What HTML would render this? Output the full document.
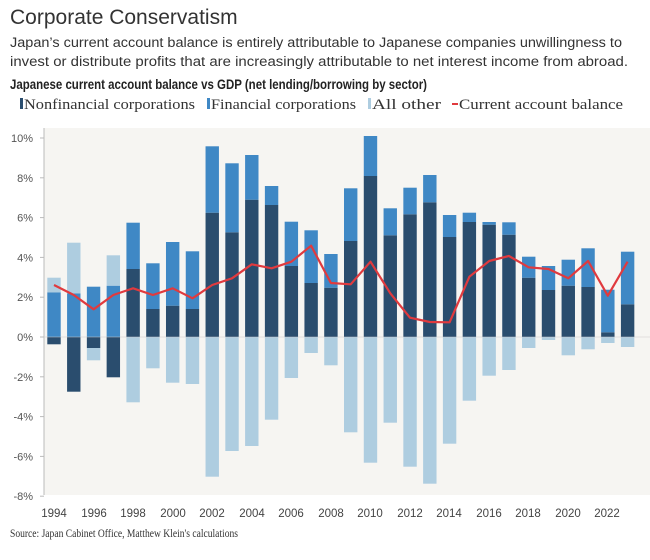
<!DOCTYPE html>
<html><head><meta charset="utf-8"><style>
body{margin:0;background:#fff;width:650px;height:555px;overflow:hidden;font-family:"Liberation Sans",sans-serif}
</style></head><body>
<svg id="s" width="650" height="555" xmlns="http://www.w3.org/2000/svg">
<text x="10" y="24" font-size="21" fill="#333" font-family="Liberation Sans">Corporate Conservatism</text>
<text x="10" y="47" font-size="13.5" fill="#333" textLength="612" lengthAdjust="spacingAndGlyphs">Japan’s current account balance is entirely attributable to Japanese companies unwillingness to</text>
<text x="10" y="66" font-size="13.5" fill="#333" textLength="618" lengthAdjust="spacingAndGlyphs">invest or distribute profits that are increasingly attributable to net interest income from abroad.</text>
<text x="10" y="89" font-size="14" font-weight="bold" fill="#222" textLength="417" lengthAdjust="spacingAndGlyphs">Japanese current account balance vs GDP (net lending/borrowing by sector)</text>
<g font-family="Liberation Serif" font-size="14.5" fill="#333">
<rect x="20" y="98" width="3" height="11" fill="#2a4d6e"/><text x="24" y="109" textLength="171" lengthAdjust="spacingAndGlyphs">Nonfinancial corporations</text>
<rect x="207" y="98" width="3" height="11" fill="#3f88c5"/><text x="211" y="109" textLength="145" lengthAdjust="spacingAndGlyphs">Financial corporations</text>
<rect x="368" y="98" width="3" height="11" fill="#aecde0"/><text x="372" y="109" textLength="69" lengthAdjust="spacingAndGlyphs">All other</text>
<rect x="452" y="103" width="6" height="2" fill="#e03a3e"/><text x="459" y="109" textLength="164" lengthAdjust="spacingAndGlyphs">Current account balance</text>
</g>
<rect x="44" y="128" width="606" height="367" fill="#f6f5f2"/>
<line x1="44" y1="128" x2="44" y2="495" stroke="#bbb" stroke-width="1"/>
<g id="ax" font-size="11" fill="#555" text-anchor="end"></g>
<g id="bars"></g>
<line x1="44" y1="337" x2="650" y2="337" stroke="#ccc" stroke-width="0.6"/>
<polyline id="red" fill="none" stroke="#e03a3e" stroke-width="2.2" stroke-linejoin="round"/>
<g font-size="11.5" fill="#444" text-anchor="middle">
<text x="54" y="517">1994</text><text x="94" y="517">1996</text><text x="133" y="517">1998</text><text x="173" y="517">2000</text><text x="212" y="517">2002</text><text x="252" y="517">2004</text><text x="291" y="517">2006</text><text x="331" y="517">2008</text><text x="370" y="517">2010</text><text x="410" y="517">2012</text><text x="449" y="517">2014</text><text x="489" y="517">2016</text><text x="528" y="517">2018</text><text x="568" y="517">2020</text><text x="607" y="517">2022</text>
</g>
<text x="10" y="537" font-family="Liberation Serif" font-size="12" fill="#333" textLength="228" lengthAdjust="spacingAndGlyphs">Source: Japan Cabinet Office, Matthew Klein's calculations</text>
</svg>
<script>
var NS="http://www.w3.org/2000/svg",Z=337;
function el(n,a,p){var e=document.createElementNS(NS,n);for(var k in a)e.setAttribute(k,a[k]);p.appendChild(e);return e;}
var ax=document.getElementById('ax');
for(var v=10;v>=-8;v-=2){var y=Z-v*19.9;var t=el('text',{x:33,y:y+4},ax);t.textContent=v+'%';el('line',{x1:40,x2:44,y1:y,y2:y,stroke:'#bbb'},ax);}
var D=[
[344.3,292.3,277.7,null],[391.7,293.3,242.7,null],[348,286.7,null,360.3],[377.3,285.7,255.3,null],
[269,222.7,null,402.3],[309,263.3,null,368.3],[305.7,242,null,382.7],[309,251.3,null,384],
[212.7,146.3,null,476.7],[232.3,163.3,null,451],[199.7,155,null,446],[205,186,null,419.7],
[266,221.7,null,378],[283,230.3,null,353],[287.7,254,null,365.3],[241,188.3,null,432.3],
[176,136,null,462.7],[235.3,208.3,null,422.7],[214.3,187.7,null,466.7],[202.3,175,null,483.7],
[237,215,null,443.7],[222,212.7,null,400.7],[224.7,222,null,375.7],[234.7,222.3,null,370],
[277.7,256.7,null,348],[290,266,null,340],[285.7,259.7,null,355.3],[287,248.3,null,349.3],
[332.3,289.7,null,343],[304.3,251.7,null,347]];
var R=[285,295,309.3,295,288.3,295,288.3,298.3,285,278.3,264.3,268.3,261.7,245.7,283,284.3,261.7,293.3,317.7,322,322.3,276.7,261,256,267.3,269,278.3,261,295.7,261.7];
var g=document.getElementById('bars'),pts=[];
D.forEach(function(d,i){var cx=54+19.78*i,x=cx-6.7,w=13.4;
 var dark=d[0],mid=d[1],lt=d[2],ln=d[3];
 if(dark>Z){
   el('rect',{x:x,y:Z,width:w,height:dark-Z,fill:'#2a4d6e'},g);
   el('rect',{x:x,y:mid,width:w,height:Z-mid,fill:'#3f88c5'},g);
   if(lt)el('rect',{x:x,y:lt,width:w,height:mid-lt,fill:'#aecde0'},g);
   if(ln)el('rect',{x:x,y:dark,width:w,height:ln-dark,fill:'#aecde0'},g);
 }else{
   el('rect',{x:x,y:dark,width:w,height:Z-dark,fill:'#2a4d6e'},g);
   el('rect',{x:x,y:mid,width:w,height:dark-mid,fill:'#3f88c5'},g);
   if(ln)el('rect',{x:x,y:Z,width:w,height:ln-Z,fill:'#aecde0'},g);
 }
 pts.push(cx.toFixed(1)+','+R[i]);
});
document.getElementById('red').setAttribute('points',pts.join(' '));
</script>
</body></html>
